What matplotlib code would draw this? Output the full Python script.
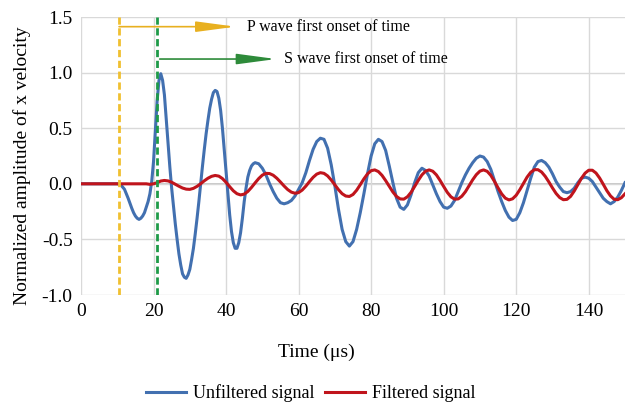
import numpy as np
import matplotlib
matplotlib.use("Agg")
import matplotlib.pyplot as plt

# values read off the reference; the unfiltered trace is sampled every 0.5 us
# between 14 and 48 us where it swings fastest, every 1 us elsewhere
unfiltered_t = np.concatenate([np.arange(0, 14), np.arange(14, 48, 0.5), np.arange(48, 151)])
unfiltered = [
    0, 0, 0, 0, 0, 0, 0, 0, 0, 0, 0, -0.01, -0.05, -0.13,
    -0.22, -0.26, -0.29, -0.31, -0.32, -0.31, -0.29, -0.26, -0.21, -0.16,
    -0.09, 0.02, 0.20, 0.48, 0.75, 0.93, 0.99, 0.93, 0.80, 0.58,
    0.36, 0.15, -0.04, -0.20, -0.36, -0.50, -0.63, -0.73, -0.81, -0.84,
    -0.85, -0.82, -0.77, -0.68, -0.58, -0.45, -0.31, -0.16, 0.00, 0.16,
    0.31, 0.45, 0.57, 0.68, 0.76, 0.82, 0.84, 0.83, 0.77, 0.66,
    0.50, 0.31, 0.11, -0.09, -0.28, -0.43, -0.53, -0.58, -0.58, -0.53,
    -0.44, -0.31, -0.16, -0.04, 0.06, 0.12, 0.16, 0.18,
    0.19, 0.18, 0.14,
    0.08, 0.00, -0.07, -0.13, -0.17, -0.18, -0.17, -0.15, -0.11, -0.05,
    0.01, 0.10, 0.21, 0.31, 0.38, 0.41, 0.40, 0.32, 0.17, -0.02,
    -0.23, -0.41, -0.52, -0.56, -0.52, -0.41, -0.26, -0.09, 0.09, 0.25,
    0.36, 0.40, 0.38, 0.30, 0.16, 0.01, -0.13, -0.21, -0.23, -0.19,
    -0.10, 0.01, 0.10, 0.14, 0.12, 0.07, -0.01, -0.09, -0.16, -0.21,
    -0.22, -0.20, -0.15, -0.07, 0.01, 0.08, 0.14, 0.19, 0.23, 0.25,
    0.24, 0.20, 0.13, 0.03, -0.07, -0.16, -0.24, -0.30, -0.33, -0.32,
    -0.26, -0.17, -0.06, 0.05, 0.15, 0.20, 0.21, 0.19, 0.15, 0.09,
    0.02, -0.03, -0.07, -0.08, -0.07, -0.04, 0.01, 0.05, 0.06, 0.05,
    0.02, -0.03, -0.08, -0.13, -0.16, -0.18, -0.16, -0.12, -0.06, 0.01,
]
filtered_t = np.arange(0, 151)
filtered = [
    0, 0, 0, 0, 0, 0, 0, 0, 0, 0, 0, 0, 0, 0, 0, 0, 0, 0, 0,
    -0.005, 0.0, 0.01, 0.025, 0.03, 0.026, 0.014, -0.004, -0.022, -0.038, -0.048, -0.05,
    -0.041, -0.023, 0.001, 0.027, 0.05, 0.067, 0.075, 0.069, 0.047, 0.013,
    -0.026, -0.063, -0.089, -0.10, -0.093, -0.069, -0.033, 0.008, 0.047, 0.078,
    0.094, 0.092, 0.077, 0.05, 0.016, -0.02, -0.052, -0.075, -0.085, -0.079,
    -0.056, -0.021, 0.02, 0.058, 0.087, 0.10, 0.094, 0.071, 0.034, -0.01,
    -0.053, -0.089, -0.11, -0.114, -0.096, -0.058, -0.008, 0.044, 0.089, 0.118,
    0.125, 0.11, 0.076, 0.029, -0.023, -0.074, -0.114, -0.136, -0.138, -0.117,
    -0.077, -0.024, 0.031, 0.08, 0.113, 0.125, 0.113, 0.08, 0.031, -0.024,
    -0.077, -0.117, -0.138, -0.136, -0.112, -0.071, -0.018, 0.036, 0.082, 0.114,
    0.125, 0.112, 0.076, 0.022, -0.037, -0.091, -0.129, -0.145, -0.135, -0.103,
    -0.053, 0.004, 0.06, 0.103, 0.127, 0.127, 0.106, 0.067, 0.017, -0.037,
    -0.087, -0.124, -0.143, -0.14, -0.113, -0.065, -0.007, 0.05, 0.096, 0.122,
    0.122, 0.097, 0.052, -0.004, -0.062, -0.109, -0.139, -0.143, -0.125, -0.09,
]
assert len(unfiltered) == len(unfiltered_t) and len(filtered) == len(filtered_t)

p_onset = 10.5
s_onset = 21.0
p_label = "P wave first onset of time"
s_label = "S wave first onset of time"

x_ticks = [0, 20, 40, 60, 80, 100, 120, 140]
y_ticks = [-1.0, -0.5, 0.0, 0.5, 1.0, 1.5]

plt.rcParams["font.family"] = ["Liberation Serif", "DejaVu Serif"]
plt.rcParams["axes.unicode_minus"] = False

W, H = 633, 408
fig = plt.figure(figsize=(W / 100, H / 100), dpi=100)
ax = fig.add_axes([81 / W, 1 - 295 / H, (625 - 81) / W, (295 - 17) / H])

blue = "#4270B0"
red = "#C0141C"

ax.plot(unfiltered_t, unfiltered, color=blue, lw=2.2, label="Unfiltered signal", zorder=3)
ax.plot(filtered_t, filtered, color=red, lw=2.2, label="Filtered signal", zorder=4)

ax.axvline(p_onset, color="#F0C030", lw=2.0, ls=(0, (2.6, 1.3)), zorder=5)
ax.axvline(s_onset, color="#1E9A48", lw=2.0, ls=(0, (2.6, 1.3)), zorder=5)

ax.annotate("", xy=(42.6, 1.413), xytext=(p_onset, 1.413),
            arrowprops=dict(arrowstyle="-|>,head_length=2.4,head_width=0.32",
                            color="#E8B020", lw=1.2, shrinkA=0, shrinkB=0))
ax.text(45.9, 1.413, p_label, fontsize=11.5, va="center", ha="left")
ax.annotate("", xy=(53.8, 1.122), xytext=(21.7, 1.122),
            arrowprops=dict(arrowstyle="-|>,head_length=2.4,head_width=0.32",
                            color="#2E8B3A", lw=1.2, shrinkA=0, shrinkB=0))
ax.text(56.1, 1.122, s_label, fontsize=11.5, va="center", ha="left")

ax.set_xlim(0, 150)
ax.set_ylim(-1.0, 1.5)
ax.set_xticks(x_ticks)
ax.set_yticks(y_ticks)
ax.set_yticklabels([f"{v:.1f}" for v in y_ticks])
ax.tick_params(length=0, labelsize=14, pad=6)
ax.tick_params(axis="x", pad=6)
ax.grid(True, color="#D9D9D9", lw=1.0)
ax.axhline(0, color="#BDBDBD", lw=1.2, zorder=1)
for s in ax.spines.values():
    s.set_visible(False)

fig.text(316 / W, 1 - 352 / H, "Time (\u03bcs)", fontsize=14, ha="center", va="center")
fig.text(22 / W, 1 - 166 / H, "Normalized amplitude of x velocity", fontsize=14,
         rotation=90, ha="center", va="center")

fig.legend(loc="center", bbox_to_anchor=(311 / W, 1 - 393 / H), ncol=2, frameon=False,
           fontsize=13, handlelength=2.2, columnspacing=0.6, handletextpad=0.4)

fig.savefig("out.png", dpi=100)
